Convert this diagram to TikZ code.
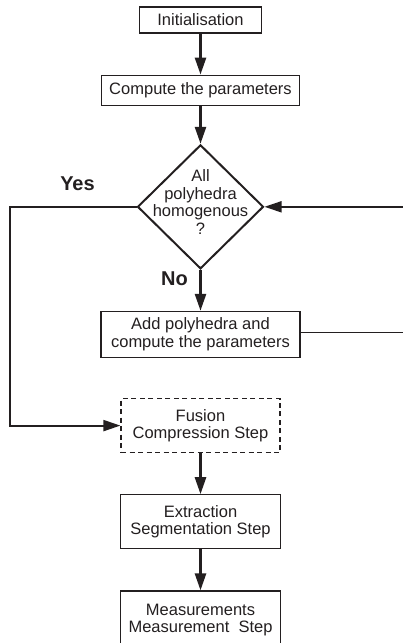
\documentclass[tikz,border=0pt]{standalone}
\usepackage{fontspec}
\setmainfont{Liberation Sans}
\definecolor{ink}{HTML}{231F20}
\usetikzlibrary{arrows.meta,positioning,shapes.geometric}
\tikzset{
  box/.style={draw=ink,line width=1.2pt,fill=white,align=center,
              inner sep=3pt,minimum width=160pt,minimum height=54pt},
  decision/.style={diamond,draw=ink,line width=2pt,inner sep=0pt,
              minimum width=126pt,minimum height=124pt},
  arr/.style={-{Triangle[length=17pt,width=11pt]},line width=2.6pt,ink},
  lbl/.style={font=\fontsize{20}{22}\selectfont\bfseries,text=ink,inner sep=1pt}
}

\begin{document}
\begin{tikzpicture}[node distance=41pt,font=\fontsize{16.5}{17.5}\selectfont,text=ink]
    \useasboundingbox (0,0) rectangle (402pt,-643pt);
    \node[box,minimum width=122pt,minimum height=26pt] (init) at (200.5pt,-20pt) {Initialisation};
    \node[box,below=of init,minimum width=198pt,minimum height=30pt] (param) {Compute the parameters};
    \node[decision,below=38pt of param] (homog) {};
    \node[align=center,inner sep=0pt] (homogtxt) at ([yshift=5pt]homog.center)
         {All\\polyhedra\\homogenous\\?};
    \node[box,below=of homog,minimum width=199pt,minimum height=46pt] (addpoly)
         {Add polyhedra and\\compute the parameters};
    \node[box,dashed,dash pattern=on 5pt off 3.5pt,below=40pt of addpoly,minimum width=159pt] (fusion)
         {Fusion\\Compression Step};
    \node[box,below=of fusion] (extract) {Extraction\\Segmentation Step};
    \node[box,below=of extract,minimum height=58pt] (measure) {Measurements\\Measurement\ \ Step};
    \node[lbl] (yes) at ([shift={(-59pt,23pt)}]homog.west) {Yes};
    \node[lbl] (no) at ([shift={(-26pt,-9pt)}]homog.south) {No};
    % main flow
    \draw[arr] (init) -- (param);
    \draw[arr] (param) -- (homog);
    \draw[arr] (homog) -- (addpoly);
    \draw[arr] (fusion) -- (extract);
    \draw[arr] (extract) -- (measure);
    % yes branch and loop back
    \draw[arr,line width=2pt] (homog.west) -- ++(-127pt,0) |- (fusion.west);
    \draw[arr,line width=1.7pt] ([yshift=2pt]addpoly.east) -- ++(108pt,0) |- (homog.east);
\end{tikzpicture}
\end{document}
